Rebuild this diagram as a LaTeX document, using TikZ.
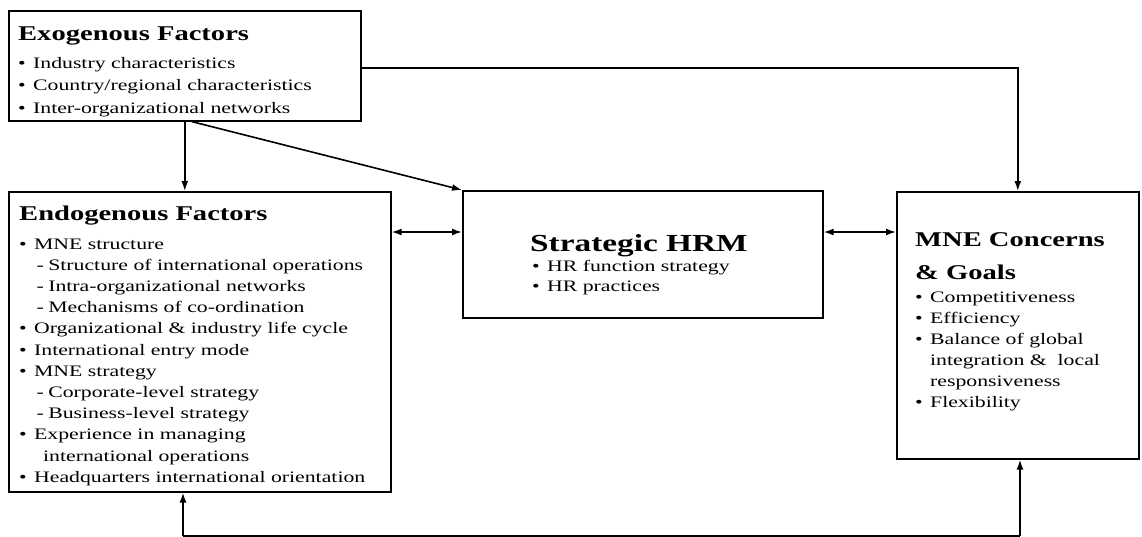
\documentclass[tikz,border=0pt]{standalone}
\usepackage{fontspec}
\setmainfont{Liberation Serif}
\usetikzlibrary{arrows.meta,calc}
\newcommand\bul{\makebox[11pt][l]{\textbullet}}
\newcommand\dsh{\hspace*{12.8pt}\makebox[8.6pt][l]{-}}
\newcommand\ind[1]{\hspace*{#1pt}}
\newcommand\hd[1]{{\fontsize{21}{33}\selectfont\bfseries #1\par}}
\newcommand\wide[2]{\scalebox{1.36}[1]{\parbox[t]{#1pt}{\raggedright #2}}}
\begin{document}
\begin{tikzpicture}[x=1pt,y=-1pt,
  box/.style={draw, line width=1.6pt, inner sep=0, anchor=north west},
  txt/.style={anchor=base west, inner sep=0},
  arr/.style={line width=1.6pt, -{Latex[length=10pt,width=7pt]}},
  dbl/.style={line width=1.6pt, {Latex[length=10pt,width=7pt]}-{Latex[length=10pt,width=7pt]}},
  ln/.style={line width=1.6pt}]
\useasboundingbox (0,0) rectangle (1142,536);
% boxes
\node[box, minimum width=352pt, minimum height=110pt] (exo) at (8,10) {};
\node[box, minimum width=382pt, minimum height=300pt] (endo) at (8,191) {};
\node[box, minimum width=360pt, minimum height=127pt] (hrm) at (462,190) {};
\node[box, minimum width=242pt, minimum height=267pt] (mne) at (896,191) {};
% texts
\node[txt] (exot) at (18,40) {\wide{250}{\hd{Exogenous Factors}
  \vspace{5.5pt}\fontsize{16}{22.5}\selectfont
  \bul Industry characteristics\\
  \bul Country/regional characteristics\\
  \bul Inter-organizational networks}};
\node[txt] (endot) at (19,220) {\wide{270}{\hd{Endogenous Factors}
  \vspace{7.8pt}\fontsize{16}{21.2}\selectfont
  \bul MNE structure\\
  \dsh Structure of international operations\\
  \dsh Intra-organizational networks\\
  \dsh Mechanisms of co-ordination\\
  \bul Organizational \& industry life cycle\\
  \bul International entry mode\\
  \bul MNE strategy\\
  \dsh Corporate-level strategy\\
  \dsh Business-level strategy\\
  \bul Experience in managing\\
  \ind{17.6}international operations\\
  \bul Headquarters international orientation}};
\node[txt] (hrmt) at (530,251) {\wide{200}{{\fontsize{24.5}{30}\selectfont\bfseries Strategic HRM\par}
  \fontsize{16}{20}\selectfont\ind{1.5}\bul HR function strategy\\
  \ind{1.5}\bul HR practices}};
\node[txt] (mnet) at (915,246) {\wide{160}{\hd{MNE Concerns\\\& Goals}
  \vspace{2pt}\fontsize{16}{21}\selectfont
  \bul Competitiveness\\
  \bul Efficiency\\
  \bul Balance of global\\
  \ind{11}integration \&\ \ local\\
  \ind{11}responsiveness\\
  \bul Flexibility}};
% connectors
\coordinate (t) at (0,68);
\coordinate (m) at (0,232);
\coordinate (b1) at (183,536);
\coordinate (b2) at (1020,536);
\draw[arr] (exo.east |- t) -| (mne.north);
\draw[arr] (exo.south) -- (exo.south |- endo.north);
\draw[arr] ($(exo.south)+(7,0)$) -- (hrm.north west);
\draw[dbl] (endo.east |- m) -- (hrm.west |- m);
\draw[dbl] (hrm.east |- m) -- (mne.west |- m);
\draw[arr] (b1) -- (b1 |- endo.south);
\draw[arr] (b2) -- (b2 |- mne.south);
\draw[ln] (b1) -- (b2);
\end{tikzpicture}
\end{document}
